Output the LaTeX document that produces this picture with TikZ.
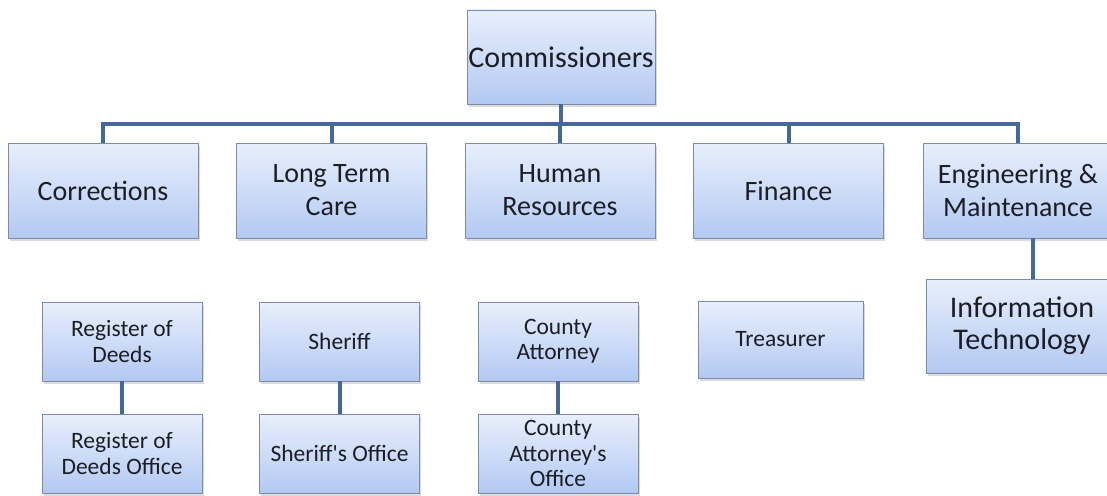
\documentclass[tikz,border=0pt]{standalone}
\usepackage{fontspec}
\setmainfont{Carlito}
\usetikzlibrary{shadows}
\definecolor{boxtop}{HTML}{E8EFFC}
\definecolor{boxbot}{HTML}{B3C9F2}
\definecolor{boxline}{HTML}{7D8CA6}
\definecolor{linkblue}{HTML}{46679A}
\definecolor{ink}{HTML}{1C1E26}

\begin{document}
\begin{tikzpicture}[x = 1pt, y = -1pt,
  box/.style = {draw = boxline, line width = 0.8pt, top color = boxtop, bottom color = boxbot,
    drop shadow = {shadow xshift = 1.5pt, shadow yshift = -3pt, fill = black!40, opacity = 0.35},
    text = ink, align = center, inner sep = 0pt, minimum width = 190pt, minimum height = 95pt,
    font = \fontsize{28}{33}\selectfont},
  smallbox/.style = {box, minimum width = 160pt, minimum height = 79pt,
    font = \fontsize{23.5}{25.5}\selectfont},
  link/.style = {draw = linkblue, line width = 4pt}]
\useasboundingbox (0, 0) rectangle (1107, 495);
% Top box and first row
\node[box, minimum width = 188pt, minimum height = 94pt, font = \fontsize{30}{34}\selectfont]
  (com) at (561, 57) {Commissioners};
\node[box] (corr) at (103, 190.5) {Corrections};
\node[box] (ltc) at (331.5, 190.5) {Long Term\\Care};
\node[box] (hr) at (560, 190.5) {Human\\Resources};
\node[box] (fin) at (788.5, 190.5) {Finance};
\node[box] (eng) at (1018, 190.5) {Engineering \&\\Maintenance};
% Second and third rows
\node[smallbox] (rod) at (122, 341.5) {Register of\\Deeds};
\node[smallbox] (rodo) at (122, 453.5) {Register of\\Deeds Office};
\node[smallbox] (sher) at (339.5, 341.5) {Sheriff};
\node[smallbox] (shero) at (339.5, 453.5) {Sheriff\textquotesingle s Office};
\node[smallbox] (ca) at (558, 341.5) {County\\Attorney};
\node[smallbox] (cao) at (558, 453.5) {County\\Attorney\textquotesingle s\\Office};
\node[smallbox, minimum width = 165pt, minimum height = 77pt] (tre) at (780.5, 339.5) {Treasurer};
\node[box, minimum width = 192pt, minimum height = 94pt, font = \fontsize{30}{32}\selectfont]
  (it) at (1022, 326) {Information\\Technology};
% Connectors
\coordinate (bus) at (561, 124);
\coordinate (itjoin) at (1033, 0);
\draw[link] (com.south) -- (bus);
\foreach \n in {corr, ltc, hr, fin, eng}
  \draw[link] (\n.north) |- (bus);
\draw[link] (eng.south -| itjoin) -- (it.north -| itjoin);
\draw[link] (rod) -- (rodo);
\draw[link] (sher) -- (shero);
\draw[link] (ca) -- (cao);
\end{tikzpicture}
\end{document}
